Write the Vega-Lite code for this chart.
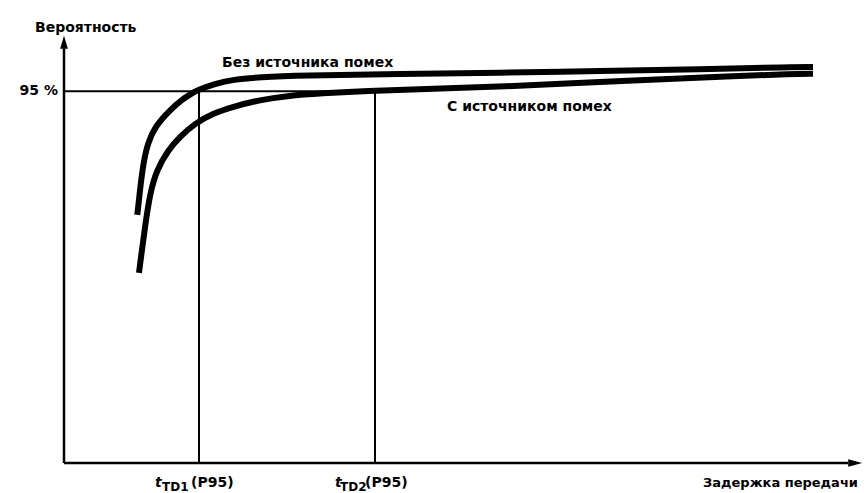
{
  "$schema": "https://vega.github.io/schema/vega-lite/v6.json",
  "width": 800,
  "height": 450,
  "autosize": {"type": "none"},
  "padding": {"left": 64, "top": 13, "right": 0, "bottom": 30},
  "background": "white",
  "config": {"view": {"stroke": null}},
  "datasets": {
    "curves": [
      {"series": "Без источника помех", "delay": 9.16, "prob": 63.4},
      {"series": "Без источника помех", "delay": 9.5, "prob": 69.8},
      {"series": "Без источника помех", "delay": 9.91, "prob": 76.6},
      {"series": "Без источника помех", "delay": 10.46, "prob": 81.7},
      {"series": "Без источника помех", "delay": 11.375, "prob": 86.0},
      {"series": "Без источника помех", "delay": 13.25, "prob": 90.2},
      {"series": "Без источника помех", "delay": 14.71, "prob": 92.8},
      {"series": "Без источника помех", "delay": 16.0, "prob": 94.5},
      {"series": "Без источника помех", "delay": 16.6, "prob": 95.2},
      {"series": "Без источника помех", "delay": 18.875, "prob": 96.9},
      {"series": "Без источника помех", "delay": 21.125, "prob": 98.0},
      {"series": "Без источника помех", "delay": 24.5, "prob": 98.6},
      {"series": "Без источника помех", "delay": 29.5, "prob": 99.0},
      {"series": "Без источника помех", "delay": 42.0, "prob": 99.4},
      {"series": "Без источника помех", "delay": 54.5, "prob": 99.7},
      {"series": "Без источника помех", "delay": 67.0, "prob": 100.2},
      {"series": "Без источника помех", "delay": 79.5, "prob": 100.6},
      {"series": "Без источника помех", "delay": 91.125, "prob": 101.2},
      {"series": "Без источника помех", "delay": 93.625, "prob": 101.2},
      {"series": "С источником помех", "delay": 9.375, "prob": 48.6},
      {"series": "С источником помех", "delay": 9.58, "prob": 51.9},
      {"series": "С источником помех", "delay": 10.125, "prob": 60.4},
      {"series": "С источником помех", "delay": 10.75, "prob": 68.9},
      {"series": "С источником помех", "delay": 11.58, "prob": 74.9},
      {"series": "С источником помех", "delay": 13.04, "prob": 80.0},
      {"series": "С источником помех", "delay": 14.5, "prob": 83.4},
      {"series": "С источником помех", "delay": 16.375, "prob": 86.8},
      {"series": "С источником помех", "delay": 18.67, "prob": 89.4},
      {"series": "С источником помех", "delay": 21.17, "prob": 91.1},
      {"series": "С источником помех", "delay": 24.5, "prob": 92.8},
      {"series": "С источником помех", "delay": 27.8, "prob": 93.8},
      {"series": "С источником помех", "delay": 32.0, "prob": 94.5},
      {"series": "С источником помех", "delay": 38.625, "prob": 95.1},
      {"series": "С источником помех", "delay": 42.0, "prob": 95.4},
      {"series": "С источником помех", "delay": 54.5, "prob": 96.1},
      {"series": "С источником помех", "delay": 71.125, "prob": 97.8},
      {"series": "С источником помех", "delay": 83.625, "prob": 98.9},
      {"series": "С источником помех", "delay": 91.125, "prob": 99.4},
      {"series": "С источником помех", "delay": 93.625, "prob": 99.5}
    ],
    "refs": [
      {"name": "P95", "x": 0, "x2": 38.875, "y": 95, "y2": 95},
      {"name": "tTD1", "x": 16.875, "x2": 16.875, "y": 0, "y2": 95},
      {"name": "tTD2", "x": 38.875, "x2": 38.875, "y": 0, "y2": 95}
    ],
    "axes": [
      {"name": "y", "x": 0, "x2": 0, "y": 0, "y2": 106},
      {"name": "x", "x": 0, "x2": 98.0, "y": 0, "y2": 0}
    ],
    "arrows": [
      {"name": "y", "x": 0, "y": 107.5},
      {"name": "x", "x": 98.9, "y": 0}
    ],
    "labels": [
      {"text": "Вероятность", "x": -3.625, "y": 111.2},
      {"text": "Без источника помех", "x": 19.75, "y": 102.2},
      {"text": "С источником помех", "x": 47.875, "y": 91.0},
      {"text": "(P95)", "x": 15.875, "y": -5.1},
      {"text": "(P95)", "x": 37.625, "y": -5.1}
    ],
    "axistitle": [
      {"text": "Задержка передачи", "x": 79.875, "y": -5.1}
    ],
    "pct": [
      {"text": "95 %", "x": -0.75, "y": 95}
    ],
    "tsym": [
      {"text": "t", "x": 11.375, "y": -5.1},
      {"text": "t", "x": 33.875, "y": -5.1}
    ],
    "subs": [
      {"text": "TD1", "x": 12.25, "y": -6.2},
      {"text": "TD2", "x": 34.5, "y": -6.2}
    ]
  },
  "layer": [
    {
      "data": {"name": "refs"},
      "mark": {"type": "rule", "color": "black", "strokeWidth": 2},
      "encoding": {
        "x": {"field": "x", "type": "quantitative", "scale": {"domain": [0, 100], "nice": false, "zero": false}, "axis": null},
        "x2": {"field": "x2"},
        "y": {"field": "y", "type": "quantitative", "scale": {"domain": [0, 115], "nice": false, "zero": false}, "axis": null},
        "y2": {"field": "y2"}
      }
    },
    {
      "data": {"name": "axes"},
      "mark": {"type": "rule", "color": "black", "strokeWidth": 2.5},
      "encoding": {
        "x": {"field": "x", "type": "quantitative"},
        "x2": {"field": "x2"},
        "y": {"field": "y", "type": "quantitative"},
        "y2": {"field": "y2"}
      }
    },
    {
      "data": {"name": "arrows"},
      "transform": [{"filter": "datum.name === 'y'"}],
      "mark": {"type": "point", "filled": true, "color": "black", "opacity": 1, "shape": "M0,-1L0.6,1L-0.6,1Z", "size": 169},
      "encoding": {
        "x": {"field": "x", "type": "quantitative"},
        "y": {"field": "y", "type": "quantitative"}
      }
    },
    {
      "data": {"name": "arrows"},
      "transform": [{"filter": "datum.name === 'x'"}],
      "mark": {"type": "point", "filled": true, "color": "black", "opacity": 1, "shape": "M1,0L-1,-0.55L-1,0.55Z", "size": 196},
      "encoding": {
        "x": {"field": "x", "type": "quantitative"},
        "y": {"field": "y", "type": "quantitative"}
      }
    },
    {
      "data": {"name": "curves"},
      "mark": {"type": "line", "color": "black", "strokeWidth": 6, "interpolate": "basis"},
      "encoding": {
        "x": {"field": "delay", "type": "quantitative"},
        "y": {"field": "prob", "type": "quantitative"},
        "detail": {"field": "series"}
      }
    },
    {
      "data": {"name": "labels"},
      "mark": {"type": "text", "align": "left", "baseline": "middle", "font": "DejaVu Sans", "fontWeight": "bold", "fontSize": 14, "color": "black"},
      "encoding": {
        "x": {"field": "x", "type": "quantitative"},
        "y": {"field": "y", "type": "quantitative"},
        "text": {"field": "text"}
      }
    },
    {
      "data": {"name": "axistitle"},
      "mark": {"type": "text", "align": "left", "baseline": "middle", "font": "DejaVu Sans", "fontWeight": "bold", "fontSize": 13, "color": "black"},
      "encoding": {
        "x": {"field": "x", "type": "quantitative"},
        "y": {"field": "y", "type": "quantitative"},
        "text": {"field": "text"}
      }
    },
    {
      "data": {"name": "pct"},
      "mark": {"type": "text", "align": "right", "baseline": "middle", "font": "DejaVu Sans", "fontWeight": "bold", "fontSize": 14, "color": "black"},
      "encoding": {
        "x": {"field": "x", "type": "quantitative"},
        "y": {"field": "y", "type": "quantitative"},
        "text": {"field": "text"}
      }
    },
    {
      "data": {"name": "tsym"},
      "mark": {"type": "text", "align": "left", "baseline": "middle", "font": "DejaVu Sans", "fontWeight": "bold", "fontStyle": "italic", "fontSize": 14, "color": "black"},
      "encoding": {
        "x": {"field": "x", "type": "quantitative"},
        "y": {"field": "y", "type": "quantitative"},
        "text": {"field": "text"}
      }
    },
    {
      "data": {"name": "subs"},
      "mark": {"type": "text", "align": "left", "baseline": "middle", "font": "DejaVu Sans", "fontWeight": "bold", "fontSize": 12, "color": "black"},
      "encoding": {
        "x": {"field": "x", "type": "quantitative"},
        "y": {"field": "y", "type": "quantitative"},
        "text": {"field": "text"}
      }
    }
  ]
}
